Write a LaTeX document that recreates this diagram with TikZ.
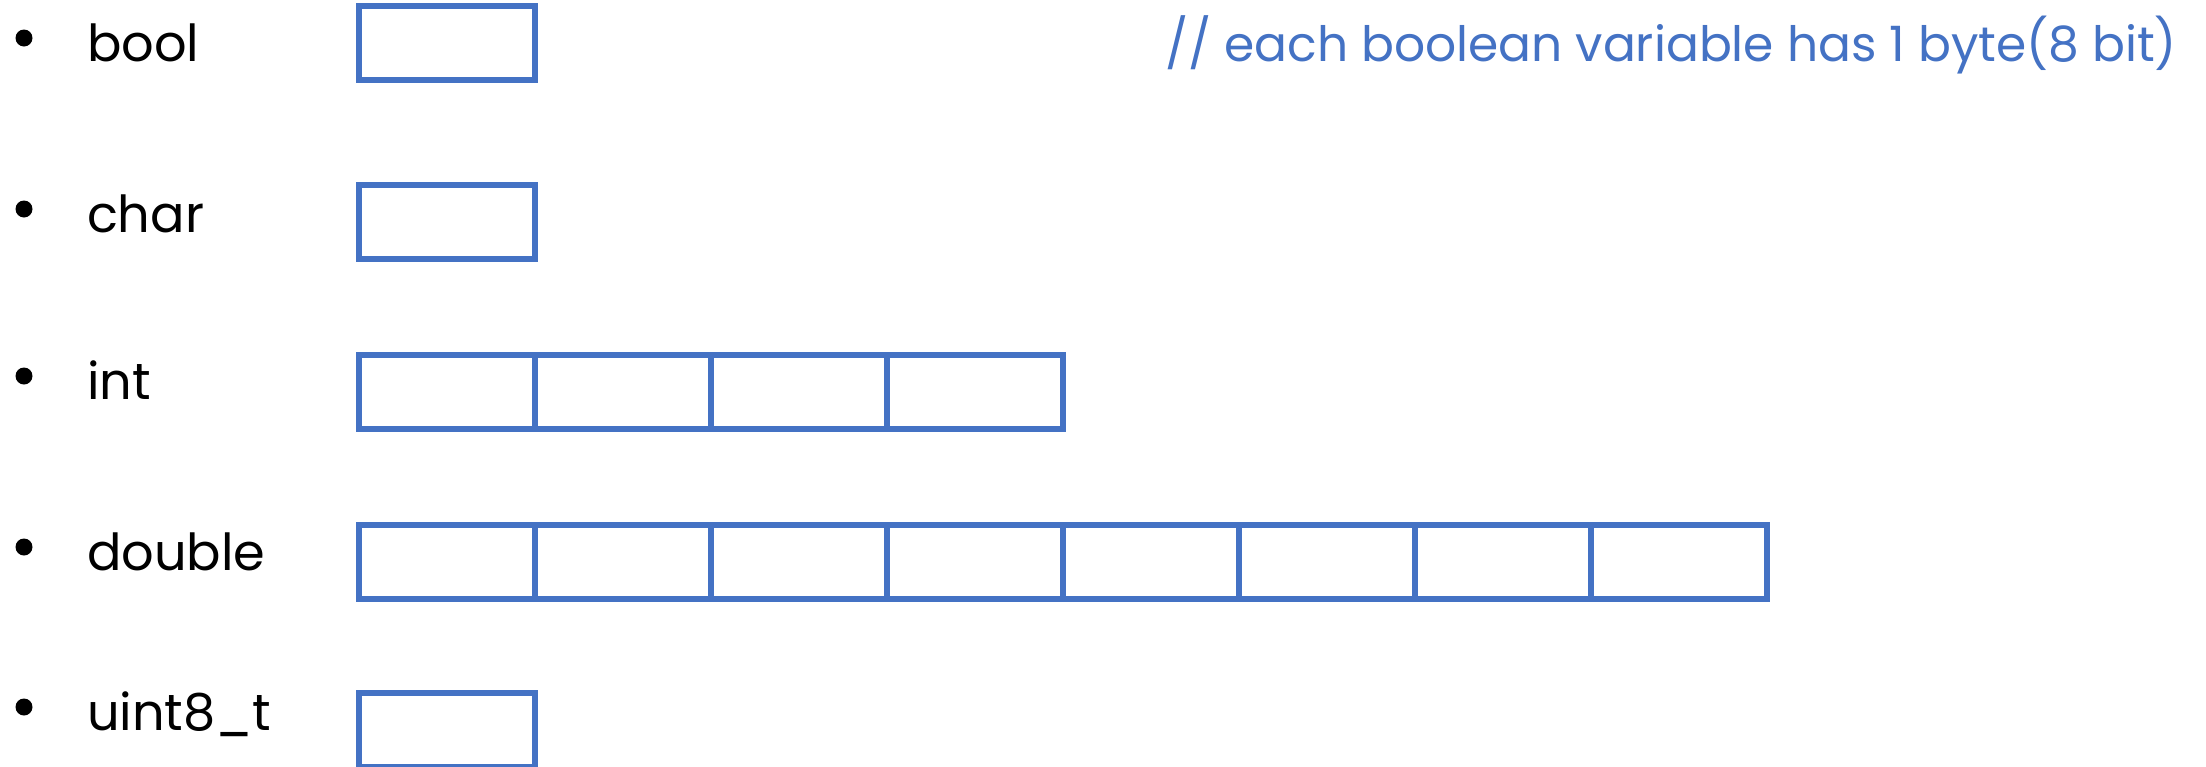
\documentclass[tikz,border=0pt]{standalone}
\usepackage{fontspec}
\setmainfont{Poppins}
\usepackage{tikz}
\usetikzlibrary{positioning}
\definecolor{cellBlue}{HTML}{4472C4}

\begin{document}
\begin{tikzpicture}[
  x=1pt, y=-1pt,
  every node/.style={inner sep=0pt, outer sep=0pt},
  cell/.style={rectangle, draw=cellBlue, line width=6pt, fill=white,
               minimum width=176pt, minimum height=74pt, anchor=north west},
  typename/.style={anchor=base west, text=black,
                   font=\fontsize{51}{53}\selectfont},
  bulletdot/.style={circle, fill=black, minimum size=17pt},
  remark/.style={anchor=base west, text=cellBlue,
                 font=\fontsize{48.7}{51}\selectfont},
]

% ── Page frame ─────────────────────────────────────────────────────
\fill[white] (0,0) rectangle (2206,766);
\useasboundingbox (0,0) rectangle (2206,766);

% ── Grid ───────────────────────────────────────────────────────────
\def\dotX{24}      % bullet x
\def\nameX{87}     % type name x
\def\colX{359}     % first cell x
\def\cellW{176}    % one byte

% ── Type names (name / baseline) ───────────────────────────────────
\foreach \name/\txt/\base in {bool/bool/61, char/char/232, int/int/399,
                             double/double/570, uint/uint8\_t/730} {
  \node[bulletdot] (dot-\name) at (\dotX,\base-23) {};
  \node[typename]  (lbl-\name) at (\nameX,\base) {\txt};
}

% ── Byte cells (name / bytes / top edge) ───────────────────────────
\foreach \name/\n/\top in {bool/1/6, char/1/185, int/4/355,
                           double/8/525, uint/1/693} {
  \foreach \i in {1,...,\n}
    \node[cell] (\name-\i) at ({\colX+(\i-1)*\cellW},\top) {};
}

% ── Remark ─────────────────────────────────────────────────────────
\node[remark] (note) at (1165,61) {// each boolean variable has 1 byte(8 bit)};

\end{tikzpicture}
\end{document}
